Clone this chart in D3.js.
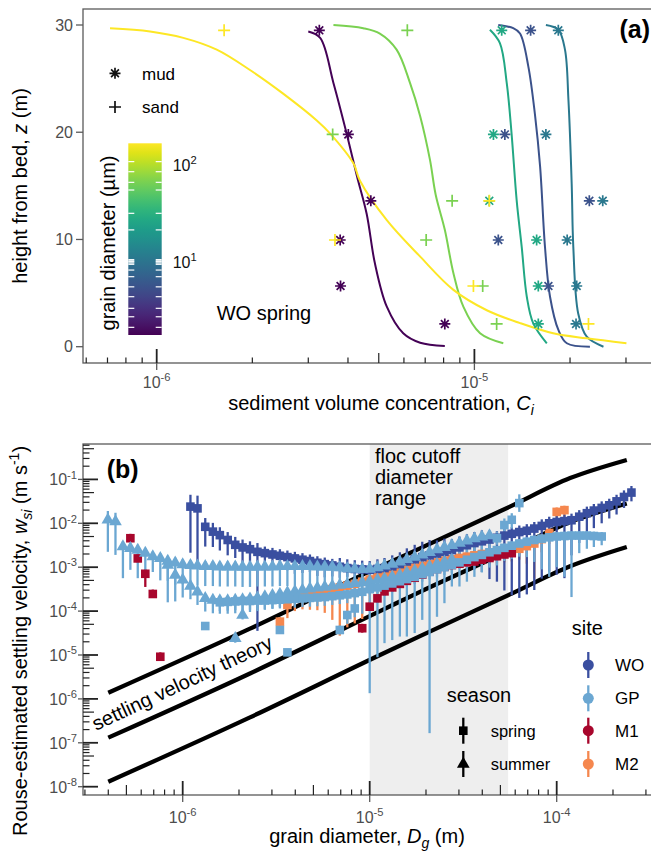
<!DOCTYPE html>
<html>
<head>
<meta charset="utf-8">
<script src="https://cdn.jsdelivr.net/npm/d3@7"></script>
<style>
body{margin:0;background:#fff;}
svg{display:block;font-family:"Liberation Sans",Arial,sans-serif;}
</style>
</head>
<body>
<svg id="fig" width="651" height="855"></svg>
<script>
// ---------- panel (a): WO spring profiles ----------
const grainSizes = [1.8, 5.5, 10.8, 27, 67, 167];          // um
const grainKind = ["mud", "mud", "mud", "mud", "sand", "sand"];
const obsHeights = [29.5, 19.8, 13.6, 9.95, 5.66, 2.12];    // m
const obsConc = [
	[3.25e-6, 4.01e-6, 4.72e-6, 3.78e-6, 3.79e-6, 8.07e-6],
	[1.503e-5, 1.247e-5, 2.30e-5, 1.189e-5, 1.710e-5, null],
	[1.837e-5, 1.679e-5, 2.535e-5, 1.959e-5, 2.099e-5, 2.089e-5],
	[1.219e-5, 1.148e-5, 1.114e-5, 1.570e-5, 1.589e-5, 1.589e-5],
	[6.15e-6, 3.58e-6, 8.51e-6, 7.05e-6, 1.062e-5, 1.175e-5],
	[1.63e-6, null, 1.114e-5, 3.64e-6, 9.93e-6, 2.286e-5]
];
const profileZ = [
	[29.4, 28.8, 24.6, 19.9, 15.9, 12.4, 7.8, 3.73, 1.25, 0.37, 0.07],
	[30.0, 29.7, 29.2, 26.1, 21.5, 16.8, 9.3, 4.66, 1.56, 0.32, 0.0],
	[30.0, 29.55, 27.7, 23.0, 15.2, 9.3, 3.1, 0.93, 0.0],
	[29.55, 28.3, 24.6, 19.9, 13.7, 9.3, 4.66, 2.18, 0.32],
	[30.0, 29.7, 29.2, 27.7, 24.6, 21.5, 17.4, 14.2, 10.9, 6.85, 3.73, 1.25, 0.32],
	[29.7, 29.4, 28.8, 27.7, 25.8, 23.6, 21.1, 19.9, 17.1, 15.5, 11.8, 8.4, 5.3, 3.4, 2.2, 1.25, 0.78, 0.32]
];
const profileC = [
	[3.00e-6, 3.27e-6, 3.60e-6, 3.96e-6, 4.27e-6, 4.58e-6, 4.86e-6, 5.30e-6, 5.97e-6, 6.75e-6, 8.07e-6],
	[1.189e-5, 1.325e-5, 1.392e-5, 1.479e-5, 1.553e-5, 1.610e-5, 1.668e-5, 1.730e-5, 1.838e-5, 1.954e-5, 2.31e-5],
	[1.679e-5, 1.838e-5, 1.928e-5, 1.977e-5, 2.024e-5, 2.048e-5, 2.122e-5, 2.258e-5, 2.548e-5],
	[1.119e-5, 1.203e-5, 1.264e-5, 1.309e-5, 1.358e-5, 1.409e-5, 1.462e-5, 1.532e-5, 1.690e-5],
	[3.60e-6, 4.47e-6, 5.04e-6, 5.69e-6, 6.27e-6, 6.75e-6, 7.25e-6, 7.55e-6, 8.07e-6, 8.59e-6, 9.23e-6, 1.042e-5, 1.233e-5],
	[7.13e-7, 9.53e-7, 1.213e-6, 1.545e-6, 1.966e-6, 2.50e-6, 3.19e-6, 3.51e-6, 4.16e-6, 4.36e-6, 5.30e-6, 6.75e-6, 8.59e-6, 1.094e-5, 1.392e-5, 1.770e-5, 2.256e-5, 3.01e-5]
];
const colorbarRange = [1.75, 167];                           // um
const colorbarTicks = [108, 85, 66, 55, 31.6, 21.3, 10.5, 10.2, 10, 9.7, 9.4, 8.2, 7.0, 5.5, 4.35, 3.3, 2.7, 2.1];

// ---------- panel (b): settling velocity vs grain diameter ----------
// bin centres (um) shared by all deployments
const diamGrid = [0.398, 0.437, 0.479, 0.525, 0.575, 0.631, 0.692, 0.759, 0.832, 0.912,
	1.00, 1.10, 1.20, 1.32, 1.45, 1.58, 1.74, 1.91, 2.09, 2.29,
	2.51, 2.75, 3.02, 3.31, 3.63, 3.98, 4.37, 4.79, 5.25, 5.75,
	6.31, 6.92, 7.59, 8.32, 9.12, 10.0, 11.0, 12.0, 13.2, 14.5,
	15.8, 17.4, 19.1, 20.9, 22.9, 25.1, 27.5, 30.2, 33.1, 36.3,
	39.8, 43.7, 47.9, 52.5, 57.5, 63.1, 69.2, 75.9, 83.2, 91.2,
	100, 110, 120, 132, 145, 158, 174, 191, 209, 229, 251];

// log10 of w (m/s), and error bar length below / above in decades
const woSpringW = [-1.62, -1.66, -2.08, -2.19, -2.27, -2.38, -2.49, -2.55, -2.59, -2.65,
	-2.68, -2.71, -2.74, -2.77, -2.80, -2.83, -2.86, -2.90, -2.93, -2.96,
	-2.99, -3.02, -3.04, -3.05, -3.06, -3.04, -3.02, -2.98, -2.93, -2.87,
	-2.82, -2.77, -2.73, -2.69, -2.65, -2.61, -2.55, -2.50, -2.45, -2.41,
	-2.37, -2.33, -2.28, -2.24, -2.20, -2.17, -2.12, -2.06, -2.00, -1.97,
	-1.95, -1.93, -1.85, -1.77, -1.71, -1.65, -1.59, -1.50, -1.40, -1.30];
const woSpringLo = [1.05, 1.2, 0.45, 0.35, 0.35, 0.35, 0.3, 0.35, 0.3, 1.8,
	0.3, 0.35, 0.3, 0.3, 0.35, 0.3, 0.25, 0.3, 0.3, 0.25,
	0.25, 0.2, 0.25, 0.2, 0.2, 0.2, 0.2, 0.2, 0.25, 0.2,
	0.2, 0.25, 0.2, 0.25, 0.3, 0.35, 0.4, 0.45, 0.6, 0.7,
	0.9, 1.0, 1.25, 1.4, 1.5, 1.45, 1.4, 1.2, 1.1, 1.2,
	1.3, 0.8, 0.6, 0.5, 0.4, 0.35, 0.3, 0.3, 0.25, 0.2];
const woSpringHi = [0.27, 0.29, 0.2, 0.2, 0.18, 0.18, 0.18, 0.18, 0.18, 0.2,
	0.15, 0.15, 0.15, 0.15, 0.15, 0.15, 0.15, 0.15, 0.15, 0.15,
	0.2, 0.2, 0.2, 0.2, 0.2, 0.22, 0.23, 0.25, 0.27, 0.3,
	0.33, 0.35, 0.35, 0.3, 0.3, 0.25, 0.25, 0.25, 0.25, 0.25,
	0.15, 0.15, 0.15, 0.15, 0.15, 0.15, 0.15, 0.15, 0.15, 0.15,
	0.15, 0.15, 0.15, 0.15, 0.15, 0.15, 0.15, 0.15, 0.15, 0.15];

const gpSummerAW = [-1.92, -1.96, -2.53, -2.57, -2.61, -2.68, -2.76, -2.80, -2.86, -2.90,
	-2.94, -2.96, -2.97, -2.98, -2.98, -2.99, -2.99, -2.99, -3.00, -3.00,
	-2.99, -2.99, -2.99, -2.98, -2.98, -2.98, -2.98, -2.98, -2.99, -2.99,
	-3.00, -3.01, -3.03, -3.04, -3.05, -3.04, -3.01, -2.97, -2.93, -2.88,
	-2.82, -2.77, -2.72, -2.66, -2.60, -2.55, -2.50, -2.45, -2.40, -2.35,
	-2.31, -2.28];
const gpSummerALo = [0.73, 0.76, 0.72, 0.49, 0.64, 0.5, 0.35, 0.5, 0.45, 0.5,
	0.45, 0.45, 0.45, 0.45, 0.45, 0.45, 0.45, 0.45, 0.45, 0.45,
	0.45, 0.45, 0.45, 0.45, 0.45, 0.45, 0.45, 0.45, 0.45, 0.45,
	0.4, 0.4, 0.4, 0.4, 0.4, 0.4, 0.4, 0.4, 0.4, 0.4,
	0.4, 0.4, 0.4, 0.4, 0.4, 0.4, 0.4, 0.4, 0.4, 0.4,
	0.4, 0.4];
const gpSummerAHi = [0.2, 0.2, 0.12, 0.12, 0.12, 0.12, 0.12, 0.12, 0.12, 0.12,
	0.12, 0.12, 0.12, 0.12, 0.12, 0.12, 0.12, 0.12, 0.12, 0.12,
	0.12, 0.12, 0.12, 0.12, 0.12, 0.12, 0.12, 0.12, 0.12, 0.12,
	0.12, 0.12, 0.12, 0.12, 0.12, 0.12, 0.12, 0.12, 0.12, 0.12,
	0.12, 0.12, 0.12, 0.12, 0.12, 0.12, 0.12, 0.12, 0.12, 0.12,
	0.12, 0.12];

const gpSummerBW = [-2.95, -3.18, -3.29, -3.43, -3.56, -3.71, -3.75, -3.76, -3.76, -3.75,
	-3.74, -3.72, -3.70, -3.67, -3.64, -3.61, -3.58, -3.55, -3.52, -3.49,
	-3.47, -3.45, -3.43, -3.41, -3.39, -3.37, -3.35, -3.32, -3.29, -3.26,
	-3.22, -3.18, -3.13, -3.08, -3.03, -2.98, -2.93, -2.88, -2.83];
const gpSummerBLo = [0.85, 0.6, 0.4, 0.3, 0.3, 0.3, 0.3, 0.3, 0.3, 0.3,
	0.3, 0.3, 0.3, 0.3, 0.3, 0.3, 0.3, 0.3, 0.3, 0.3,
	0.3, 0.3, 0.3, 0.3, 0.3, 0.3, 0.3, 0.3, 0.3, 0.3,
	0.3, 0.3, 0.3, 0.3, 0.3, 0.3, 0.3, 0.3, 0.3];

const gpSummerOutD = [1.91, 2.09];
const gpSummerOutW = [-4.62, -4.09];

const gpSpringAW = [-3.80, -3.79, -3.78, -3.77, -3.77, -3.76, -3.76, -3.75, -3.74, -3.73,
	-3.72, -3.71, -3.70, -3.69, -3.68, -3.66, -3.64, -3.62, -3.59, -3.56,
	-3.50, -3.46, -3.42, -3.37, -3.32, -3.27, -3.22, -3.16, -3.11, -3.05,
	-3.00, -2.95, -2.89, -2.83, -2.77, -2.72, -2.66, -2.61, -2.56, -2.51,
	-2.46, -2.42, -2.38, -2.35, -2.32, -2.30, -2.29, -2.28, -2.28, -2.28,
	-2.29, -2.30];
const gpSpringALo = [0.2, 0.2, 0.2, 0.2, 0.2, 0.2, 0.2, 0.2, 0.2, 0.2,
	0.2, 0.2, 0.2, 0.2, 0.2, 0.2, 0.2, 0.2, 0.25, 0.5,
	2.37, 1.59, 1.31, 1.29, 1.26, 1.31, 1.28, 1.04, 3.67, 1.08,
	0.82, 0.49, 0.55, 0.5, 0.45, 0.4, 0.35, 0.35, 0.3, 0.3,
	0.3, 0.35, 0.5, 0.7, 0.9, 0.7, 0.93, 1.4, 0.4, 0.3,
	0.25, 0.2];

const gpSpringOutD = [1.32, 3.31, 3.63, 6.92, 7.59, 8.32, 47.9, 52.5, 57.5, 63.1];
const gpSpringOutW = [-4.34, -4.43, -4.94, -4.43, -4.09, -3.94, -2.34, -2.04, -1.92, -1.54];
const gpSpringOutLo = [0.05, 0.05, 0.05, 0.1, 0.2, 0.2, 0.15, 0.15, 0.2, 0.2];
const gpSpringOutHi = [0.05, 0.05, 0.05, 0.1, 0.1, 0.1, 0.15, 0.15, 0.15, 0.2];

const m1OutD = [0.525, 0.575, 0.631, 0.692, 0.759];
const m1OutW = [-2.34, -2.80, -3.15, -3.61, -5.04];
const m1OutLo = [0.05, 0.1, 0.3, 0.05, 0.05];
const m1BandW = [-4.39, -3.90, -3.71, -3.55, -3.46, -3.38, -3.31, -3.24, -3.17, -3.10,
	-3.04, -2.99, -2.95, -2.92, -2.89, -2.87, -2.83, -2.79, -2.75, -2.71, -2.68];
const m1BandHi = [0.1, 0.1, 0.1, 0.1, 0.3, 0.35, 0.4, 0.4, 0.35, 0.3,
	0.3, 0.25, 0.2, 0.1, 0.1, 0.1, 0.1, 0.1, 0.1, 0.1, 0.1];

const m2W = [-4.24, -3.86, -3.70, -3.66, -3.62, -3.58, -3.54, -3.50, -3.46, -3.42,
	-3.38, -3.33, -3.28, -3.23, -3.18, -3.13, -3.09, -3.05, -3.01, -2.97,
	-2.93, -2.89, -2.85, -2.82, -2.79, -2.76, -2.73, -2.70, -2.68, -2.66,
	-2.64, -2.62, -2.58, -2.52, -2.46, -2.36, -2.22, -1.74, -1.70];
const m2Lo = [0.2, 0.3, 0.3, 0.3, 0.35, 0.4, 0.5, 0.7, 1.1, 0.95,
	0.9, 0.85, 0.7, 0.4, 0.35, 0.25, 0.25, 0.25, 0.25, 0.25,
	0.25, 0.25, 0.25, 0.25, 0.25, 0.25, 0.25, 0.25, 0.25, 0.25,
	0.25, 0.25, 0.25, 0.4, 0.8, 0.3, 0.25, 0.2, 0.2];

// settling velocity theory curves
const theoryD = [4.0e-7, 2.29e-6, 1.135e-5, 1.858e-5, 5.62e-5, 1.18e-4, 2.37e-4];
const theoryHigh = [1.38e-6, 3.98e-5, 1.03e-3, 2.69e-3, 2.40e-2, 0.107, 0.277];
const theoryMid = [1.31e-7, 3.8e-6, 1.0e-4, 2.75e-4, 2.40e-3, 1.07e-2, 2.82e-2];
const theoryLow = [1.30e-8, 3.8e-7, 1.0e-5, 2.69e-5, 2.40e-4, 1.05e-3, 2.88e-3];
const flocCutoff = [1e-5, 5.5e-5];

const siteNames = ["WO", "GP", "M1", "M2"];
const siteColors = ["#3A4FA0", "#6BA7D2", "#A8062C", "#F5874E"];
const seasonNames = ["spring", "summer"];

// ================================================================
const svg = d3.select("#fig");
const GREY = "#4d4d4d", AXIS = "#5a5a5a";

function logTicks(lo, hi){
	let out = [];
	for(let e = Math.floor(Math.log10(lo)); e <= Math.ceil(Math.log10(hi)); e++){
		for(let m = 1; m <= 9; m++){
			let v = m * Math.pow(10, e);
			if(v >= lo * 0.999 && v <= hi * 1.001){
				out.push({v: v, kind: m === 1 ? "major" : (m === 5 ? "mid" : "minor")});
			}
		}
	}
	return out;
}

function powLabel(g, x, y, exp, anchor, size, color){
	let t = g.append("text").attr("x", x).attr("y", y)
		.attr("text-anchor", anchor).attr("font-size", size).attr("fill", color);
	t.append("tspan").text("10");
	t.append("tspan").attr("dy", -size * 0.42).attr("font-size", size * 0.7).text(exp);
	return t;
}

const tickLen = {major: 14, mid: 10, minor: 5.5};

// ---------------- panel (a) ----------------
const A = {left: 83, top: 9, bottom: 363, right: 700};
const xA = d3.scaleLog().domain([1e-6, 1e-5]).range([156.7, 474.4]);
const yA = d3.scaleLinear().domain([0, 30]).range([346.7, 25]);
const grainColor = d3.scaleSequentialLog(d3.interpolateViridis).domain(colorbarRange);

svg.append("clipPath").attr("id", "clipA").append("rect")
	.attr("x", A.left).attr("y", A.top).attr("width", A.right - A.left).attr("height", A.bottom - A.top);

let gA = svg.append("g");
gA.append("rect").attr("x", A.left).attr("y", A.top).attr("width", A.right - A.left)
	.attr("height", A.bottom - A.top).attr("fill", "none").attr("stroke", AXIS).attr("stroke-width", 1.3);

let plotA = gA.append("g").attr("clip-path", "url(#clipA)");
let lineA = d3.line().x(d => xA(d[0])).y(d => yA(d[1])).curve(d3.curveCatmullRom);
profileZ.forEach((zs, i) => {
	let pts = zs.map((z, j) => [profileC[i][j], z]);
	plotA.append("path").attr("d", lineA(pts)).attr("fill", "none")
		.attr("stroke", grainColor(grainSizes[i])).attr("stroke-width", 2);
});

const starPath = "M-5.5,0H5.5M0,-5.5V5.5M-3.9,-3.9L3.9,3.9M-3.9,3.9L3.9,-3.9";
const plusPath = "M-6,0H6M0,-6V6";
obsConc.forEach((row, i) => {
	row.forEach((c, j) => {
		if(c === null) return;
		plotA.append("path").attr("d", grainKind[i] === "mud" ? starPath : plusPath)
			.attr("transform", "translate(" + xA(c) + "," + yA(obsHeights[j]) + ")")
			.attr("fill", "none").attr("stroke", grainColor(grainSizes[i])).attr("stroke-width", 1.7);
	});
});

// x axis (a): log ticks inside, major ticks also outside
logTicks(6e-7, 3.5e-5).forEach(t => {
	let x = xA(t.v);
	gA.append("line").attr("x1", x).attr("x2", x).attr("y1", A.bottom).attr("y2", A.bottom - tickLen[t.kind])
		.attr("stroke", "#222").attr("stroke-width", t.kind === "major" ? 1.8 : 1.2);
	if(t.kind === "major"){
		gA.append("line").attr("x1", x).attr("x2", x).attr("y1", A.bottom).attr("y2", A.bottom + 7)
			.attr("stroke", AXIS).attr("stroke-width", 1.3);
		powLabel(gA, x, 388, "-" + Math.round(-Math.log10(t.v)), "middle", 16, GREY);
	}
});
// y axis (a)
[0, 10, 20, 30].forEach(v => {
	let y = yA(v);
	gA.append("line").attr("x1", A.left - 7).attr("x2", A.left).attr("y1", y).attr("y2", y)
		.attr("stroke", AXIS).attr("stroke-width", 1.3);
	gA.append("text").attr("x", A.left - 10).attr("y", y + 5.5).attr("text-anchor", "end")
		.attr("font-size", 16).attr("fill", GREY).text(v);
});

let xtA = gA.append("text").attr("x", 381).attr("y", 410).attr("text-anchor", "middle").attr("font-size", 20);
xtA.append("tspan").text("sediment volume concentration, ");
xtA.append("tspan").attr("font-style", "italic").text("C");
xtA.append("tspan").attr("font-style", "italic").attr("font-size", 14).attr("dy", 5).text("i");

let ytA = gA.append("text").attr("transform", "translate(27,186) rotate(-90)").attr("text-anchor", "middle").attr("font-size", 20);
ytA.append("tspan").text("height from bed, ");
ytA.append("tspan").attr("font-style", "italic").text("z");
ytA.append("tspan").text(" (m)");

// shape legend
gA.append("path").attr("d", starPath).attr("transform", "translate(115,73.3)")
	.attr("fill", "none").attr("stroke", "#111").attr("stroke-width", 1.7);
gA.append("text").attr("x", 142).attr("y", 79.5).attr("font-size", 17).text("mud");
gA.append("path").attr("d", plusPath).attr("transform", "translate(115,107)")
	.attr("fill", "none").attr("stroke", "#111").attr("stroke-width", 1.7);
gA.append("text").attr("x", 142).attr("y", 113).attr("font-size", 17).text("sand");

// colour bar
const cb = {x: 128.3, w: 33.4, top: 143.3, bottom: 335};
const yCb = d3.scaleLog().domain(colorbarRange).range([cb.bottom, cb.top]);
let grad = svg.append("defs").append("linearGradient").attr("id", "cbGrad")
	.attr("x1", 0).attr("x2", 0).attr("y1", 1).attr("y2", 0);
d3.range(0, 1.0001, 0.05).forEach(f => {
	grad.append("stop").attr("offset", f).attr("stop-color", d3.interpolateViridis(f));
});
gA.append("rect").attr("x", cb.x).attr("y", cb.top).attr("width", cb.w).attr("height", cb.bottom - cb.top)
	.attr("fill", "url(#cbGrad)");
colorbarTicks.forEach(v => {
	let y = yCb(v);
	gA.append("line").attr("x1", cb.x).attr("x2", cb.x + 6).attr("y1", y).attr("y2", y).attr("stroke", "#fff").attr("stroke-width", 1.2);
	gA.append("line").attr("x1", cb.x + cb.w - 6).attr("x2", cb.x + cb.w).attr("y1", y).attr("y2", y).attr("stroke", "#fff").attr("stroke-width", 1.2);
});
powLabel(gA, 172.7, yCb(100) + 6, "2", "start", 16, "#111");
powLabel(gA, 172.7, yCb(10) + 6, "1", "start", 16, "#111");
gA.append("text").attr("transform", "translate(115,243) rotate(-90)").attr("text-anchor", "middle")
	.attr("font-size", 20).text("grain diameter (\u00b5m)");

gA.append("text").attr("x", 216.7).attr("y", 320).attr("font-size", 20).text("WO spring");
gA.append("text").attr("x", 650).attr("y", 38).attr("text-anchor", "end").attr("font-size", 25)
	.attr("font-weight", "bold").text("(a)");

// ---------------- panel (b) ----------------
const B = {left: 83, top: 444, bottom: 795, right: 700};
const xB = d3.scaleLog().domain([1e-6, 1e-4]).range([182.7, 556.7]);
const yB = d3.scaleLog().domain([1e-8, 1e-1]).range([786.7, 479.4]);

svg.append("clipPath").attr("id", "clipB").append("rect")
	.attr("x", B.left).attr("y", B.top).attr("width", B.right - B.left).attr("height", B.bottom - B.top);

let gB = svg.append("g");
let plotB = gB.append("g").attr("clip-path", "url(#clipB)");

plotB.append("rect").attr("x", xB(flocCutoff[0])).attr("y", B.top)
	.attr("width", xB(flocCutoff[1]) - xB(flocCutoff[0])).attr("height", B.bottom - B.top).attr("fill", "#eeeeee");

let lineB = d3.line().x(d => xB(d[0])).y(d => yB(d[1])).curve(d3.curveMonotoneX);
[theoryHigh, theoryMid, theoryLow].forEach(ws => {
	plotB.append("path").attr("d", lineB(theoryD.map((d, i) => [d, ws[i]])))
		.attr("fill", "none").attr("stroke", "#000").attr("stroke-width", 4.3);
});

gB.append("text").attr("transform", "translate(96,731) rotate(-25.1)").attr("font-size", 20).text("settling velocity theory");
["floc cutoff", "diameter", "range"].forEach((s, i) => {
	gB.append("text").attr("x", 375).attr("y", 463.3 + i * 21).attr("font-size", 20).text(s);
});

// build the point-range series
function gridSeries(start, ws, lo, hi, site, season){
	return ws.map((w, i) => ({
		d: diamGrid[start + i] * 1e-6, w: w,
		lo: lo ? lo[i] : 0.1, hi: hi ? hi[i] : 0.1, site: site, season: season
	}));
}
function listSeries(ds, ws, lo, hi, site, season){
	return ws.map((w, i) => ({
		d: ds[i] * 1e-6, w: w,
		lo: lo ? lo[i] : 0.1, hi: hi ? hi[i] : 0.1, site: site, season: season
	}));
}
const pointsB = [].concat(
	gridSeries(23, m2W, m2Lo, null, "M2", "spring"),
	listSeries(m1OutD, m1OutW, m1OutLo, null, "M1", "spring"),
	gridSeries(34, m1BandW, null, m1BandHi, "M1", "spring"),
	gridSeries(11, woSpringW, woSpringLo, woSpringHi, "WO", "spring"),
	gridSeries(15, gpSpringAW, gpSpringALo, null, "GP", "spring"),
	listSeries(gpSpringOutD, gpSpringOutW, gpSpringOutLo, gpSpringOutHi, "GP", "spring"),
	gridSeries(8, gpSummerBW, gpSummerBLo, null, "GP", "summer"),
	listSeries(gpSummerOutD, gpSummerOutW, null, null, "GP", "summer"),
	gridSeries(0, gpSummerAW, gpSummerALo, gpSummerAHi, "GP", "summer")
);
const siteColor = d3.scaleOrdinal().domain(siteNames).range(siteColors);

// ranges first, then points
pointsB.forEach(p => {
	let x = xB(p.d);
	plotB.append("line").attr("x1", x).attr("x2", x)
		.attr("y1", yB(Math.pow(10, p.w - p.lo))).attr("y2", yB(Math.pow(10, p.w + p.hi)))
		.attr("stroke", siteColor(p.site)).attr("stroke-width", 2.3);
});
const sq = d3.symbol().type(d3.symbolSquare).size(74);
const tri = d3.symbol().type(d3.symbolTriangle).size(70);
pointsB.forEach(p => {
	plotB.append("path").attr("d", p.season === "spring" ? sq() : tri())
		.attr("transform", "translate(" + xB(p.d) + "," + yB(Math.pow(10, p.w)) + ")")
		.attr("fill", siteColor(p.site));
});

// axes (b)
gB.append("rect").attr("x", B.left).attr("y", B.top).attr("width", B.right - B.left)
	.attr("height", B.bottom - B.top).attr("fill", "none").attr("stroke", AXIS).attr("stroke-width", 1.3);
logTicks(3e-7, 3e-4).forEach(t => {
	let x = xB(t.v);
	gB.append("line").attr("x1", x).attr("x2", x).attr("y1", B.bottom).attr("y2", B.bottom - tickLen[t.kind])
		.attr("stroke", "#222").attr("stroke-width", t.kind === "major" ? 1.8 : 1.2);
	if(t.kind === "major"){
		gB.append("line").attr("x1", x).attr("x2", x).attr("y1", B.bottom).attr("y2", B.bottom + 7)
			.attr("stroke", AXIS).attr("stroke-width", 1.3);
		powLabel(gB, x, 823, "-" + Math.round(-Math.log10(t.v)), "middle", 16, GREY);
	}
});
logTicks(1e-8, 0.6).forEach(t => {
	let y = yB(t.v);
	gB.append("line").attr("x1", B.left).attr("x2", B.left + tickLen[t.kind] + 1).attr("y1", y).attr("y2", y)
		.attr("stroke", "#222").attr("stroke-width", t.kind === "major" ? 1.8 : 1.2);
	if(t.kind === "major"){
		gB.append("line").attr("x1", B.left - 5).attr("x2", B.left).attr("y1", y).attr("y2", y)
			.attr("stroke", AXIS).attr("stroke-width", 1.3);
		powLabel(gB, 77, y + 6, "-" + Math.round(-Math.log10(t.v)), "end", 16, GREY);
	}
});

let xtB = gB.append("text").attr("x", 367).attr("y", 843).attr("text-anchor", "middle").attr("font-size", 20);
xtB.append("tspan").text("grain diameter, ");
xtB.append("tspan").attr("font-style", "italic").text("D");
xtB.append("tspan").attr("font-style", "italic").attr("font-size", 14).attr("dy", 5).text("g");
xtB.append("tspan").attr("dy", -5).text(" (m)");

let ytB = gB.append("text").attr("transform", "translate(27,641) rotate(-90)").attr("text-anchor", "middle").attr("font-size", 20);
ytB.append("tspan").text("Rouse-estimated settling velocity, ");
ytB.append("tspan").attr("font-style", "italic").text("w");
ytB.append("tspan").attr("font-style", "italic").attr("font-size", 14).attr("dy", 5).text("si");
ytB.append("tspan").attr("dy", -5).text(" (m s");
ytB.append("tspan").attr("font-size", 14).attr("dy", -8).text("-1");
ytB.append("tspan").attr("dy", 8).text(")");

gB.append("text").attr("x", 106.7).attr("y", 478).attr("font-size", 25).attr("font-weight", "bold").text("(b)");

// legends (b)
gB.append("text").attr("x", 571.7).attr("y", 635).attr("font-size", 20).text("site");
const siteLegY = [665, 698.3, 730.7, 764];
siteNames.forEach((s, i) => {
	let y = siteLegY[i];
	gB.append("line").attr("x1", 588.3).attr("x2", 588.3).attr("y1", y - 13).attr("y2", y + 13)
		.attr("stroke", siteColors[i]).attr("stroke-width", 2.3);
	gB.append("circle").attr("cx", 588.3).attr("cy", y).attr("r", 5.5).attr("fill", siteColors[i]);
	gB.append("text").attr("x", 615).attr("y", y + 6).attr("font-size", 17).text(s);
});
gB.append("text").attr("x", 446.7).attr("y", 702).attr("font-size", 20).text("season");
const seasonLegY = [730.7, 764];
seasonNames.forEach((s, i) => {
	let y = seasonLegY[i];
	gB.append("line").attr("x1", 463.3).attr("x2", 463.3).attr("y1", y - 13).attr("y2", y + 13)
		.attr("stroke", "#000").attr("stroke-width", 2.3);
	gB.append("path").attr("d", i === 0 ? sq() : tri()).attr("transform", "translate(463.3," + y + ")").attr("fill", "#000");
	gB.append("text").attr("x", 490.7).attr("y", y + 6).attr("font-size", 16.5).text(s);
});
</script>
</body>
</html>
